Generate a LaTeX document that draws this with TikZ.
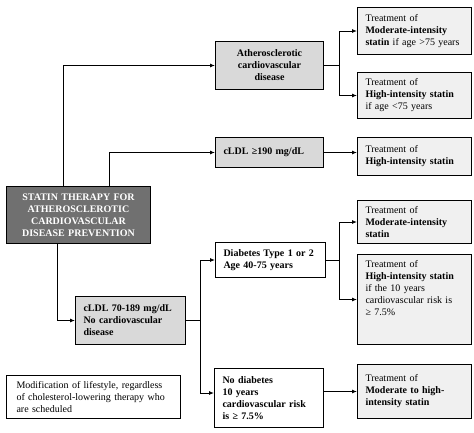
\documentclass[tikz,border=0pt]{standalone}
\usepackage{fontspec}
\setmainfont{Liberation Serif}
\usetikzlibrary{arrows.meta, positioning}

\definecolor{rootgray}{HTML}{707070}
\definecolor{stepgray}{HTML}{D9D9D9}
\definecolor{treatgray}{HTML}{F0F0F0}

\tikzset{
  box/.style = {draw, line width=1pt, anchor=north west, inner xsep=8pt, inner ysep=3pt,
                font=\fontsize{10}{12}\selectfont},
  rootbox/.style = {box, fill=rootgray, text=white, font=\fontsize{10}{12}\selectfont\bfseries,
                    align=center},
  stepbox/.style = {box, fill=stepgray, font=\fontsize{10}{12}\selectfont\bfseries, align=left},
  casebox/.style = {box, fill=white, font=\fontsize{10}{12}\selectfont\bfseries, align=left},
  treatbox/.style = {box, fill=treatgray, align=left, text width=98pt, minimum width=114pt},
  link/.style = {line width=0.9pt}
}

\begin{document}
\begin{tikzpicture}[x=1pt, y=-1pt, >={Latex[length=5pt, width=4pt]}]
  \useasboundingbox (0,0) rectangle (474,432);

  % left column
  \node[rootbox, text width=128pt, minimum width=144pt, minimum height=57pt] (root) at (6,186)
    {STATIN THERAPY FOR\\ATHEROSCLEROTIC\\CARDIOVASCULAR\\DISEASE PREVENTION};
  \node[stepbox, text width=94pt, minimum width=110pt, minimum height=48pt] (ldl70) at (75,296)
    {cLDL 70-189 mg/dL\\No cardiovascular\\disease};
  \node[box, align=left, inner xsep=10pt, text width=154pt, minimum width=174pt, minimum height=43pt] (life) at (6,375)
    {Modification of lifestyle, regardless\\of cholesterol-lowering therapy who\\are scheduled};

  % middle column
  \node[stepbox, align=center, text width=92pt, minimum width=108pt, minimum height=48pt] (athero) at (215,41)
    {Atherosclerotic\\cardiovascular\\disease};
  \node[stepbox, text width=92pt, minimum width=108pt, minimum height=30pt] (ldl190) at (215,137)
    {cLDL ≥190 mg/dL};
  \node[casebox, text width=94pt, minimum width=110pt, minimum height=35pt] (diab) at (215,242)
    {Diabetes Type 1 or 2\\Age 40-75 years};
  \node[casebox, text width=93pt, minimum width=109pt, minimum height=59pt] (nodiab) at (214,368)
    {No diabetes\\10 years\\cardiovascular risk\\is ≥ 7.5\%};

  % treatments
  \node[treatbox, minimum height=47pt] (treatA) at (357,7)
    {Treatment of\\\textbf{Moderate-intensity}\\\textbf{statin} if age >75 years};
  \node[treatbox, minimum height=46pt] (treatB) at (357,72)
    {Treatment of\\\textbf{High-intensity statin}\\if age <75 years};
  \node[treatbox, minimum height=38pt] (treatC) at (357,137)
    {Treatment of\\\textbf{High-intensity statin}};
  \node[treatbox, minimum height=43pt] (treatD) at (357,200)
    {Treatment of\\\textbf{Moderate-intensity}\\\textbf{statin}};
  \node[treatbox, inner ysep=4pt, text height=9pt, text depth=73pt, minimum height=90pt] (treatE) at (357,254)
    {Treatment of\\\textbf{High-intensity statin}\\if the 10 years\\cardiovascular risk is\\≥ 7.5\%};
  \node[treatbox, minimum height=54pt] (treatF) at (357,364)
    {Treatment of\\\textbf{Moderate to high-}\\\textbf{intensity statin}};

  % connectors
  \draw[link, ->] ([xshift=-15pt]root.north) |- (athero.west);
  \draw[link, ->] ([xshift=31pt]root.north) |- (ldl190.west);
  \draw[link, ->] ([xshift=-21pt]root.south) |- (ldl70.west);

  \draw[link] (athero.east) -- ++(15,0) coordinate (forkA);
  \draw[link, ->] (forkA) |- (treatA.west);
  \draw[link, ->] (forkA) |- (treatB.west);

  \draw[link, ->] (ldl190.east) -- (ldl190.east -| treatC.west);

  \draw[link] (ldl70.east) -- ++(14,0) coordinate (forkB);
  \draw[link, ->] (forkB) |- (diab.west);
  \draw[link, ->] (forkB) |- ([yshift=5pt]nodiab.west);

  \draw[link] (diab.east) -- ++(13,0) coordinate (forkC);
  \draw[link, ->] (forkC) |- (treatD.west);
  \draw[link, ->] (forkC) |- (treatE.west);

  \draw[link, ->] (treatF.west -| nodiab.east) -- (treatF.west);
\end{tikzpicture}
\end{document}
